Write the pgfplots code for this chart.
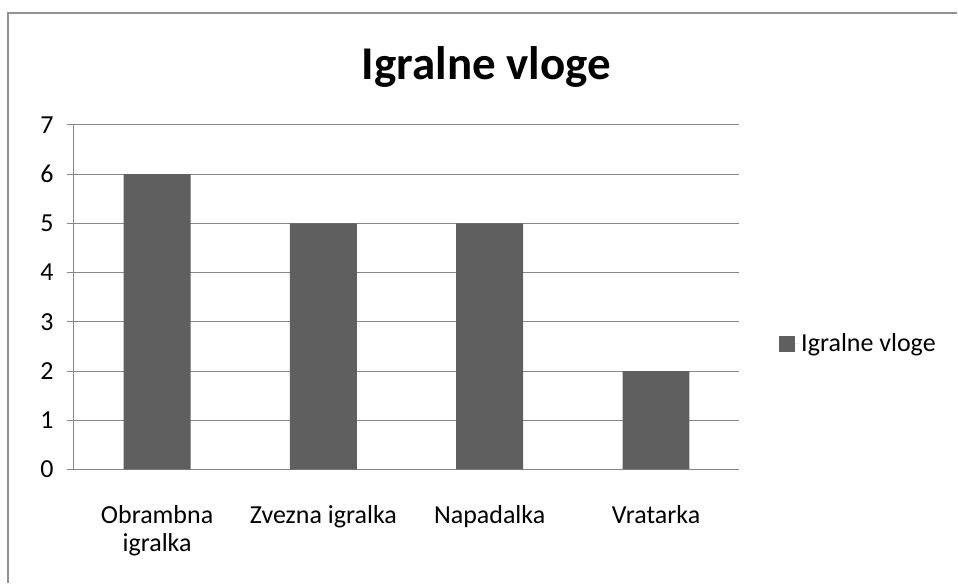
\documentclass[border=0pt]{standalone}
\usepackage{pgfplots}
\pgfplotsset{compat=1.18}
\usepackage{fontspec}
\setmainfont{Carlito}
\definecolor{barc}{HTML}{5F5F5F}
\definecolor{gridc}{HTML}{868686}
\begin{document}
\begin{tikzpicture}[x=1bp,y=1bp]
\path (0,0) rectangle (958,-584);
\draw[color=gridc!90,line width=2.2bp] (8,-584) -- (8,-13) -- (958,-13);
\node[font=\fontsize{47bp}{50bp}\selectfont\bfseries, anchor=base] at (487,-80) {Igralne vloge};
\begin{axis}[
  at={(74bp,-470bp)}, anchor=south west,
  scale only axis, width=666bp, height=345bp,
  xmin=-0.5, xmax=3.5, ymin=0, ymax=7,
  ytick={0,1,...,7},
  xtick={0,1,2,3},
  xticklabels={{Obrambna\\igralka},{Zvezna igralka},{Napadalka},{Vratarka}},
  axis x line*=bottom, axis y line*=left,
  axis line style={draw=gridc, line width=1bp},
  ymajorgrids, grid style={draw=gridc, line width=1bp},
  tick align=outside,
  major tick length=7bp,
  tick style={draw=gridc, line width=1bp},
  major x tick style={draw=none},
  extra x ticks={-0.5,0.5,1.5,2.5,3.5},
  extra x tick labels={},
  extra x tick style={major tick length=10bp, tick style={draw=gridc}, grid=none},
  ticklabel style={font=\fontsize{26bp}{28bp}\selectfont},
  /pgf/number format/assume math mode=true,
  yticklabel style={xshift=-10bp},
  xticklabel style={align=center, yshift=-26bp},
]
\end{axis}
\begin{axis}[
  at={(74bp,-470bp)}, anchor=south west,
  scale only axis, width=666bp, height=345bp,
  xmin=-0.5, xmax=3.5, ymin=0, ymax=7,
  hide axis,
  ybar, bar width=67bp,
  legend style={at={(1.06,0.365)}, anchor=west, draw=none, fill=none,
     font=\fontsize{26bp}{28bp}\selectfont, inner sep=0pt},
  legend image code/.code={\path (0bp,0bp) -- (20bp,0bp); \fill[barc] (0bp,-8bp) rectangle (16bp,8bp);},
]
\addplot[fill=barc, draw=none] coordinates {(0,6) (1,5) (2,5) (3,2)};
\addlegendentry{Igralne vloge}
\end{axis}
\end{tikzpicture}
\end{document}
